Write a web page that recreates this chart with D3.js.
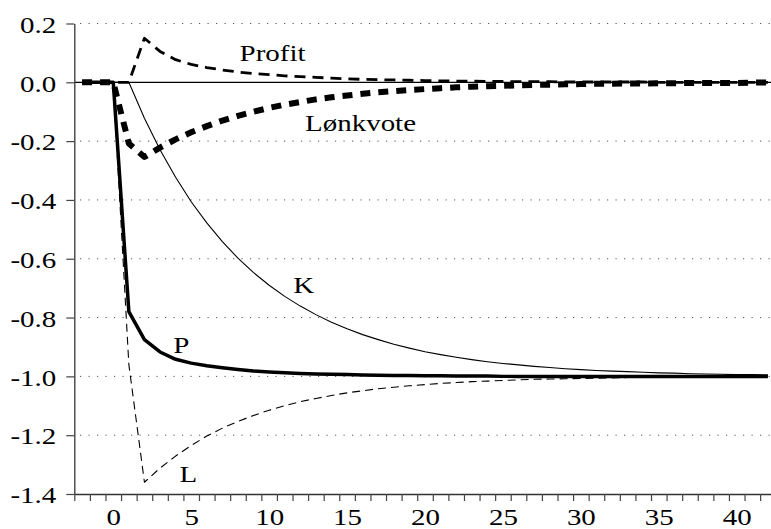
<!DOCTYPE html>
<html>
<head>
<meta charset="utf-8">
<script src="https://cdn.jsdelivr.net/npm/d3@7"></script>
<style>
  body { margin: 0; background: #fff; }
  svg text { font-family: "Liberation Serif", "Times New Roman", serif; fill: #000; }
</style>
</head>
<body>
<div id="chart"></div>
<script>
// periods -2 .. 42
const periods = d3.range(-2, 43);

const seriesP = [0, 0, 0,
  -0.78, -0.875, -0.917, -0.942, -0.955, -0.964, -0.971, -0.977, -0.982, -0.985,
  -0.988, -0.990, -0.992, -0.993, -0.994, -0.995, -0.996, -0.997, -0.997, -0.998,
  -0.998, -0.999, -0.999, -0.999, -1, -1, -1, -1, -1, -1,
  -1, -1, -1, -1, -1, -1, -1, -1, -1, -1, -1, -1];

const seriesK = [0, 0, 0, 0,
  -0.122, -0.229, -0.323, -0.406, -0.478, -0.542, -0.598, -0.647, -0.690, -0.728,
  -0.761, -0.790, -0.816, -0.838, -0.858, -0.875, -0.891, -0.904, -0.916, -0.926,
  -0.935, -0.943, -0.950, -0.956, -0.961, -0.966, -0.970, -0.974, -0.977, -0.980,
  -0.982, -0.984, -0.986, -0.988, -0.989, -0.991, -0.992, -0.993, -0.994, -0.994, -0.995];

const seriesL = [0, 0, 0,
  -0.96,
  -1.36, -1.312, -1.271, -1.235, -1.203, -1.176, -1.153, -1.133, -1.115, -1.100,
  -1.086, -1.075, -1.065, -1.056, -1.049, -1.042, -1.037, -1.032, -1.028, -1.024,
  -1.021, -1.018, -1.016, -1.014, -1.012, -1.010, -1.009, -1.008, -1.007, -1.006,
  -1.005, -1.004, -1.004, -1.003, -1.003, -1.002, -1.002, -1.002, -1.001, -1.001, -1.001];

const seriesProfit = [0, 0, 0, 0,
  0.15, 0.105, 0.077, 0.061, 0.050, 0.042, 0.035, 0.030, 0.026, 0.022,
  0.019, 0.017, 0.014, 0.012, 0.010, 0.009, 0.008, 0.007, 0.006, 0.005,
  0.004, 0.004, 0.003, 0.003, 0.002, 0.002, 0.002, 0.001, 0.001, 0.001,
  0.001, 0.001, 0.001, 0, 0, 0, 0, 0, 0, 0, 0];

const seriesLonkvote = [0, 0, 0,
  -0.208,
  -0.254, -0.222, -0.194, -0.170, -0.149, -0.130, -0.114, -0.100, -0.087, -0.076,
  -0.067, -0.058, -0.051, -0.045, -0.039, -0.034, -0.030, -0.026, -0.023, -0.020,
  -0.017, -0.015, -0.013, -0.012, -0.010, -0.009, -0.008, -0.007, -0.006, -0.005,
  -0.005, -0.004, -0.004, -0.003, -0.003, -0.002, -0.002, -0.002, -0.002, -0.001, -0.001];

const yTicks = [0.2, 0, -0.2, -0.4, -0.6, -0.8, -1.0, -1.2, -1.4];
const xLabels = [0, 5, 10, 15, 20, 25, 30, 35, 40];

// series labels, placed in data units (period, value)
const seriesLabels = [
  { text: "Profit", t: 8.1, v: 0.072 },
  { text: "Lønkvote", t: 12.3, v: -0.166 },
  { text: "K", t: 11.55, v: -0.718 },
  { text: "P", t: 3.85, v: -0.922 },
  { text: "L", t: 4.25, v: -1.358 }
];

const width = 771, height = 529;
const stretch = 1.26; // text in the picture is widened horizontally

const svg = d3.select("#chart").append("svg")
  .attr("width", width)
  .attr("height", height);

const x = d3.scaleLinear().domain([-2.5, 42.5]).range([74.3, 775.7]);
const y = d3.scaleLinear().domain([-1.4, 0.2]).range([494, 23.5]);

// dotted gridlines
svg.append("g")
  .selectAll("line")
  .data(yTicks.filter(d => d !== 0 && d !== -1.4))
  .enter().append("line")
  .attr("x1", 80).attr("x2", width)
  .attr("y1", d => y(d)).attr("y2", d => y(d))
  .attr("stroke", "#555")
  .attr("stroke-width", 1)
  .attr("stroke-dasharray", "1.2,7.3");

// zero line
svg.append("line")
  .attr("x1", x(-2.5)).attr("x2", width)
  .attr("y1", y(0)).attr("y2", y(0))
  .attr("stroke", "#000")
  .attr("stroke-width", 1.2);

// y axis
const yAxis = svg.append("g")
  .attr("transform", `translate(${x(-2.5)},0)`)
  .call(d3.axisLeft(y).tickValues(yTicks).tickSize(8).tickSizeOuter(0)
    .tickFormat(d => d.toFixed(1)));
yAxis.select(".domain").attr("stroke", "#444").attr("stroke-width", 1.4);
yAxis.selectAll(".tick line").attr("stroke", "#444").attr("stroke-width", 1.2);
yAxis.selectAll(".tick text")
  .attr("font-size", 23)
  .attr("x", -18 / stretch)
  .attr("dy", 8.7)
  .attr("transform", `scale(${stretch},1)`)
  .style("font-family", "'Liberation Serif', 'Times New Roman', serif")
  .attr("fill", "#000");

// x axis: ticks between periods
const xTickPos = d3.range(-2.5, 42, 1);
const xAxis = svg.append("g")
  .attr("transform", `translate(0,${y(-1.4)})`)
  .call(d3.axisBottom(x).tickValues(xTickPos).tickSize(7).tickSizeOuter(0).tickFormat(""));
xAxis.select(".domain").attr("stroke", "#333").attr("stroke-width", 1.4);
xAxis.selectAll(".tick line").attr("stroke", "#444").attr("stroke-width", 1.2);

const xLab = svg.append("g")
  .attr("transform", `translate(0,${y(-1.4)})`)
  .call(d3.axisBottom(x).tickValues(xLabels).tickSize(0).tickPadding(0));
xLab.select(".domain").remove();
xLab.selectAll(".tick text")
  .attr("font-size", 23)
  .attr("y", 0)
  .attr("dy", 31)
  .attr("text-anchor", "middle")
  .attr("transform", `scale(${stretch},1)`)
  .style("font-family", "'Liberation Serif', 'Times New Roman', serif")
  .attr("fill", "#000");

// series lines
const line = d3.line()
  .x((d, i) => x(periods[i]))
  .y(d => y(d));

const series = [
  { values: seriesK, width: 1.1, dash: null },
  { values: seriesL, width: 1.1, dash: "8,5" },
  { values: seriesProfit, width: 2.8, dash: "11,7" },
  { values: seriesLonkvote, width: 6, dash: "10,8" },
  { values: seriesP, width: 3.5, dash: null }
];

svg.append("g")
  .selectAll("path")
  .data(series)
  .enter().append("path")
  .attr("d", d => line(d.values))
  .attr("fill", "none")
  .attr("stroke", "#000")
  .attr("stroke-width", d => d.width)
  .attr("stroke-dasharray", d => d.dash)
  .attr("stroke-linejoin", "round");

// series labels
svg.append("g")
  .selectAll("text")
  .data(seriesLabels)
  .enter().append("text")
  .attr("transform", d => `translate(${x(d.t)},${y(d.v)}) scale(${stretch},1)`)
  .attr("font-size", 23)
  .text(d => d.text);
</script>
</body>
</html>
